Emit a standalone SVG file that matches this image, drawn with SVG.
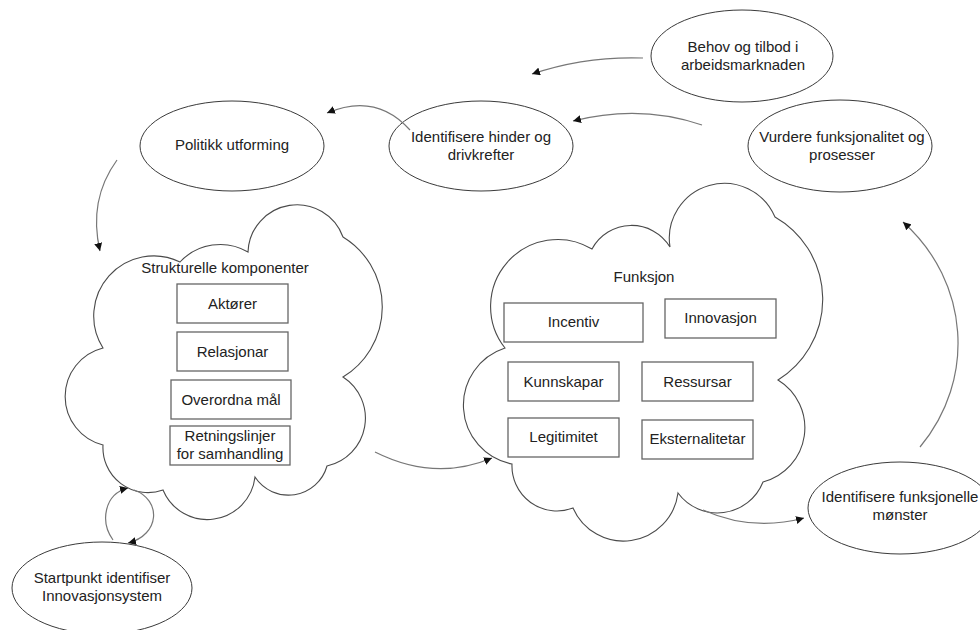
<svg xmlns="http://www.w3.org/2000/svg" width="980" height="630" viewBox="0 0 980 630">
<style>
  .bg { fill: #ffffff; }
  .ell { fill: #ffffff; stroke: #3a3a3a; stroke-width: 1; }
  .cloud { fill: #ffffff; stroke: #4a4a4a; stroke-width: 1.1; }
  .box { fill: #ffffff; stroke: #666666; stroke-width: 1.3; }
  .conn { fill: none; stroke: #777777; stroke-width: 1.2; marker-end: url(#arr); }
  text { font-family: "Liberation Sans", Arial, sans-serif; font-size: 15px; fill: #222222; text-anchor: middle; }
</style>
<defs>
  <marker id="arr" markerUnits="userSpaceOnUse" markerWidth="9" markerHeight="8" refX="8" refY="4" orient="auto">
    <path d="M0,0 L8,4 L0,8 z" fill="#111111"/>
  </marker>
</defs>
<rect class="bg" x="0" y="0" width="980" height="630"/>

<g id="cloud-struktur">
  <path class="cloud" d="M103,348 A60,60 0 0 1 180,262 A55,55 0 0 1 248,252 A49,49 0 0 1 343,237 A82,82 0 0 1 343,377 A49,49 0 0 1 327,466 A40,40 0 0 1 255,477 A48,48 0 0 1 163,490 A45,45 0 0 1 103,445 A50,50 0 0 1 103,348 Z"/>
  <text x="225" y="273">Strukturelle komponenter</text>
</g>
<g id="box-aktorer">
  <rect class="box" x="177" y="284" width="111" height="39"/>
  <text x="232.5" y="309">Aktører</text>
</g>
<g id="box-relasjonar">
  <rect class="box" x="177" y="332" width="111" height="39"/>
  <text x="232.5" y="357">Relasjonar</text>
</g>
<g id="box-overordna">
  <rect class="box" x="171" y="380" width="120" height="39"/>
  <text x="231" y="405">Overordna mål</text>
</g>
<g id="box-retningslinjer">
  <rect class="box" x="170" y="426" width="120" height="39"/>
  <text x="230" y="441">Retningslinjer</text>
  <text x="230" y="459">for samhandling</text>
</g>

<g id="cloud-funksjon">
  <path class="cloud" d="M505,348 A67,67 0 0 1 592,249 A45,45 0 0 1 670,247 A55,55 0 0 1 775,217 A95,95 0 0 1 778,380 A56,56 0 0 1 763,482 A49,49 0 0 1 678,493 A55,55 0 0 1 573,508 A45,45 0 0 1 512,464 A60,60 0 0 1 505,348 Z"/>
  <text x="644" y="282">Funksjon</text>
</g>
<g id="box-incentiv">
  <rect class="box" x="504" y="303" width="139" height="39"/>
  <text x="573.5" y="327">Incentiv</text>
</g>
<g id="box-innovasjon">
  <rect class="box" x="665" y="299" width="111" height="39"/>
  <text x="720.5" y="323">Innovasjon</text>
</g>
<g id="box-kunnskapar">
  <rect class="box" x="508" y="362" width="111" height="39"/>
  <text x="563.5" y="387">Kunnskapar</text>
</g>
<g id="box-ressursar">
  <rect class="box" x="642" y="362" width="111" height="39"/>
  <text x="697.5" y="387">Ressursar</text>
</g>
<g id="box-legitimitet">
  <rect class="box" x="508" y="418" width="111" height="39"/>
  <text x="563.5" y="442">Legitimitet</text>
</g>
<g id="box-eksternalitetar">
  <rect class="box" x="642" y="420" width="111" height="39"/>
  <text x="697.5" y="444">Eksternalitetar</text>
</g>

<g id="node-behov">
  <ellipse class="ell" cx="742" cy="56" rx="91" ry="46"/>
  <text x="743" y="52">Behov og tilbod i</text>
  <text x="743" y="70">arbeidsmarknaden</text>
</g>
<g id="node-vurdere">
  <ellipse class="ell" cx="840" cy="146" rx="92" ry="46"/>
  <text x="842" y="142">Vurdere funksjonalitet og</text>
  <text x="842" y="160">prosesser</text>
</g>
<g id="node-politikk">
  <ellipse class="ell" cx="232" cy="146" rx="92" ry="45"/>
  <text x="232" y="150">Politikk utforming</text>
</g>
<g id="node-hinder">
  <ellipse class="ell" cx="481" cy="146" rx="92" ry="45"/>
  <text x="481" y="142">Identifisere hinder og</text>
  <text x="481" y="160">drivkrefter</text>
</g>
<g id="node-startpunkt">
  <ellipse class="ell" cx="102" cy="588" rx="90" ry="46"/>
  <text x="102" y="583">Startpunkt identifiser</text>
  <text x="102" y="601">Innovasjonsystem</text>
</g>
<g id="node-monster">
  <ellipse class="ell" cx="900" cy="508" rx="92" ry="46"/>
  <text x="900" y="502">Identifisere funksjonelle</text>
  <text x="900" y="520">mønster</text>
</g>

<g id="connectors">
  <path class="conn" d="M643,58 Q585,56 532,74"/>
  <path class="conn" d="M702,125 Q640,104 573,121"/>
  <path class="conn" d="M410,130 Q376,92 327,113"/>
  <path class="conn" d="M117,160 Q88,200 100,251"/>
  <path class="conn" d="M375,452 Q435,482 492,458"/>
  <path class="conn" d="M703,510 Q752,532 804,518"/>
  <path class="conn" d="M920,447 C976,380 970,282 903,222"/>
  <path class="conn" d="M113,540 C100,522 104,494 128,488"/>
  <path class="conn" d="M134,490 C162,500 160,535 128,543"/>
</g>
</svg>
